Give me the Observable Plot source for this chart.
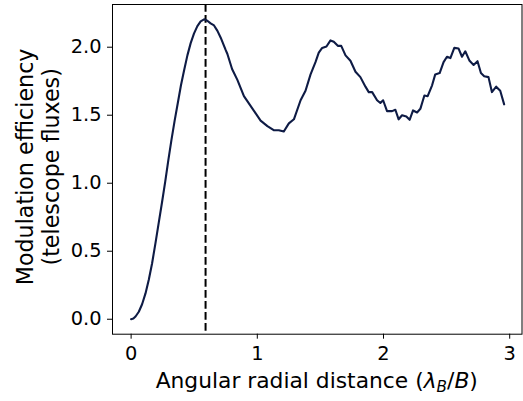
<!DOCTYPE html>
<html>
<head>
<meta charset="utf-8">
<script src="https://cdn.jsdelivr.net/npm/d3@7"></script>
<script src="https://cdn.jsdelivr.net/npm/@observablehq/plot@0.6"></script>
<style>
  html, body { margin: 0; padding: 0; background: #fff; }
  svg { display: block; }
</style>
</head>
<body>
<div id="chart"></div>
<script>
// Angular radial distance (lambda_B / B)
const dist = [0, 0.018, 0.035, 0.061, 0.087, 0.114, 0.14, 0.166, 0.193, 0.219, 0.245, 0.27, 0.295, 0.32, 0.345, 0.37, 0.395, 0.42, 0.446, 0.472, 0.498, 0.525, 0.551, 0.578, 0.604, 0.63, 0.657, 0.684, 0.71, 0.749, 0.763, 0.80, 0.842, 0.894, 0.96, 1.026, 1.08, 1.13, 1.17, 1.21, 1.25, 1.29, 1.343, 1.382, 1.422, 1.461, 1.487, 1.514, 1.548, 1.58, 1.606, 1.638, 1.665, 1.699, 1.738, 1.778, 1.817, 1.857, 1.883, 1.91, 1.949, 1.975, 1.997, 2.028, 2.068, 2.094, 2.12, 2.147, 2.181, 2.207, 2.234, 2.266, 2.292, 2.324, 2.35, 2.385, 2.41, 2.445, 2.476, 2.503, 2.53, 2.561, 2.595, 2.622, 2.648, 2.682, 2.714, 2.745, 2.772, 2.798, 2.832, 2.859, 2.893, 2.925, 2.956];
// Modulation efficiency (telescope fluxes)
const efficiency = [0, 0.005, 0.02, 0.055, 0.11, 0.19, 0.29, 0.41, 0.56, 0.71, 0.86, 1.01, 1.17, 1.32, 1.46, 1.59, 1.72, 1.83, 1.94, 2.03, 2.10, 2.155, 2.19, 2.205, 2.195, 2.175, 2.16, 2.12, 2.07, 1.98, 1.95, 1.84, 1.76, 1.64, 1.55, 1.46, 1.42, 1.39, 1.39, 1.38, 1.44, 1.47, 1.61, 1.68, 1.80, 1.89, 1.96, 1.995, 2.005, 2.05, 2.04, 2.01, 2.01, 1.94, 1.90, 1.82, 1.78, 1.71, 1.67, 1.67, 1.61, 1.59, 1.61, 1.53, 1.53, 1.54, 1.47, 1.50, 1.49, 1.466, 1.535, 1.52, 1.547, 1.645, 1.64, 1.72, 1.80, 1.81, 1.89, 1.93, 1.92, 1.995, 1.99, 1.93, 1.97, 1.90, 1.87, 1.897, 1.81, 1.787, 1.78, 1.67, 1.71, 1.68, 1.58];
// Vertical reference line (peak position)
const peakPosition = [0.59];
const xTicks = [0, 1, 2, 3];
const yTicks = [0, 0.5, 1.0, 1.5, 2.0];

const data = dist.map((d, i) => ({x: d, y: efficiency[i]}));

const W = 523, H = 401;
const mL = 112, mR = 1.5, mT = 4, mB = 67.3;

const chart = Plot.plot({
  width: W,
  height: H,
  marginLeft: mL,
  marginRight: mR,
  marginTop: mT,
  marginBottom: mB,
  style: {fontFamily: "DejaVu Sans", background: "#fff", color: "#000"},
  x: {domain: [-0.1475, 3.0975]},
  y: {domain: [-0.110, 2.314]},
  marks: [
    Plot.ruleX(peakPosition, {stroke: "#000", strokeWidth: 2, strokeDasharray: "7.7,3.3"}),
    Plot.line(data, {x: "x", y: "y", stroke: "#0e1b45", strokeWidth: 2.1, strokeLinejoin: "round", strokeLinecap: "round"}),
    Plot.frame({stroke: "#000", strokeWidth: 1}),
    Plot.axisX({ticks: xTicks, tickFormat: d => String(d), tickSize: 5, tickPadding: 7.3, fontSize: 19.4, label: null, stroke: "#000", strokeWidth: 1}),
    Plot.axisY({ticks: yTicks, tickFormat: d => d.toFixed(1), tickSize: 5, tickPadding: 6, fontSize: 19.4, label: null, stroke: "#000", strokeWidth: 1})
  ]
});

document.getElementById("chart").appendChild(chart);

const svg = d3.select(chart);
const cx = (mL + (W - mR)) / 2;
const labelSize = 22.2;

// x axis label with math
const xl = svg.append("text")
  .attr("x", cx)
  .attr("y", 388)
  .attr("text-anchor", "middle")
  .attr("font-family", "DejaVu Sans")
  .attr("font-size", 21.8)
  .attr("fill", "#000");
xl.append("tspan").text("Angular radial distance (");
xl.append("tspan").attr("font-style", "italic").text("λ");
xl.append("tspan").attr("font-style", "italic").attr("font-size", 21.8 * 0.7).attr("dy", 4).text("B");
xl.append("tspan").attr("dy", -4).text("/");
xl.append("tspan").attr("font-style", "italic").text("B");
xl.append("tspan").text(")");

// y axis label (two lines)
const cy = (mT + (H - mB)) / 2 - 2;
const yLines = ["Modulation efficiency", "(telescope fluxes)"];
const yBase = [33.3, 59];
yLines.forEach((t, i) => {
  svg.append("text")
    .attr("transform", `translate(${yBase[i]},${cy}) rotate(-90)`)
    .attr("text-anchor", "middle")
    .attr("font-family", "DejaVu Sans")
    .attr("font-size", labelSize)
    .attr("fill", "#000")
    .text(t);
});
</script>
</body>
</html>
